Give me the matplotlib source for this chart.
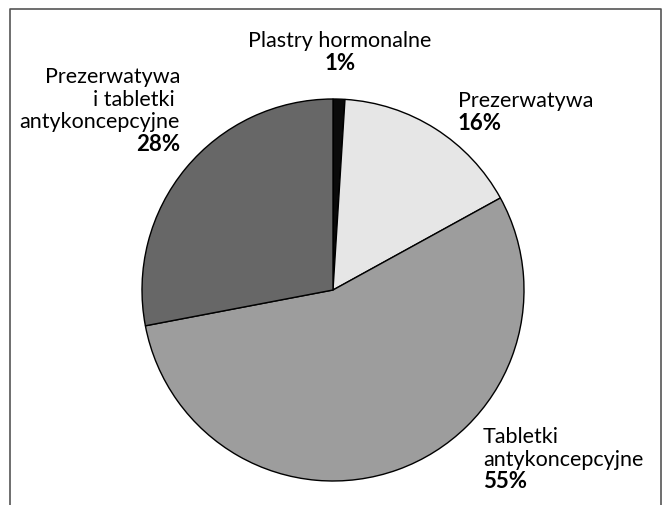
import matplotlib.pyplot as plt
from matplotlib.lines import Line2D

# data
labels = ['Plastry hormonalne', 'Prezerwatywa', 'Tabletki\nantykoncepcyjne',
          'Prezerwatywa\ni tabletki \nantykoncepcyjne']
shares = [1, 16, 55, 28]
colors = ['#0a0a0a', '#e6e6e6', '#9d9d9d', '#676767']

plt.rcParams['font.family'] = ['Lato', 'DejaVu Sans']

fig = plt.figure(figsize=(6.63, 5.06), dpi=100)
ax = fig.add_axes([0, 0, 1, 1])

# pie centre at (333, 291) px, radius 191 px
R = 191.0
cx, cy = 333.0, 291.0

ax.pie(shares, colors=colors, startangle=90, counterclock=False, radius=1,
       wedgeprops=dict(edgecolor='black', linewidth=1))
ax.set_xlim(-cx / R, (663 - cx) / R)
ax.set_ylim(-(506 - cy) / R, cy / R)
ax.set_aspect('equal')
ax.axis('off')


def px(x, y):
    return (x - cx) / R, (cy - y) / R


# label anchor (px of name top line, alignment)
label_pos = [(340, 31, 'center'), (458, 91, 'left'), (483, 427, 'left'), (180, 67, 'right')]
fs = 15.5
lh = 22.5
for lab, val, (x, y, ha) in zip(labels, shares, label_pos):
    lines = lab.split('\n')
    for i, line in enumerate(lines):
        ax.text(*px(x, y + i * lh), line, ha=ha, va='top', fontsize=fs)
    ax.text(*px(x, y + len(lines) * lh - 1), f'{val}%', ha=ha, va='top',
            fontsize=fs + 0.5, fontweight='bold')

# frame (open at the bottom)
W, H = 663.0, 506.0
xs = [10 / W, 10 / W, 661 / W, 661 / W]
ys = [0, 1 - 10 / H, 1 - 10 / H, 0]
fig.add_artist(Line2D(xs, ys, color='#555555', linewidth=1.2, transform=fig.transFigure))

fig.savefig('out.png', dpi=100)
